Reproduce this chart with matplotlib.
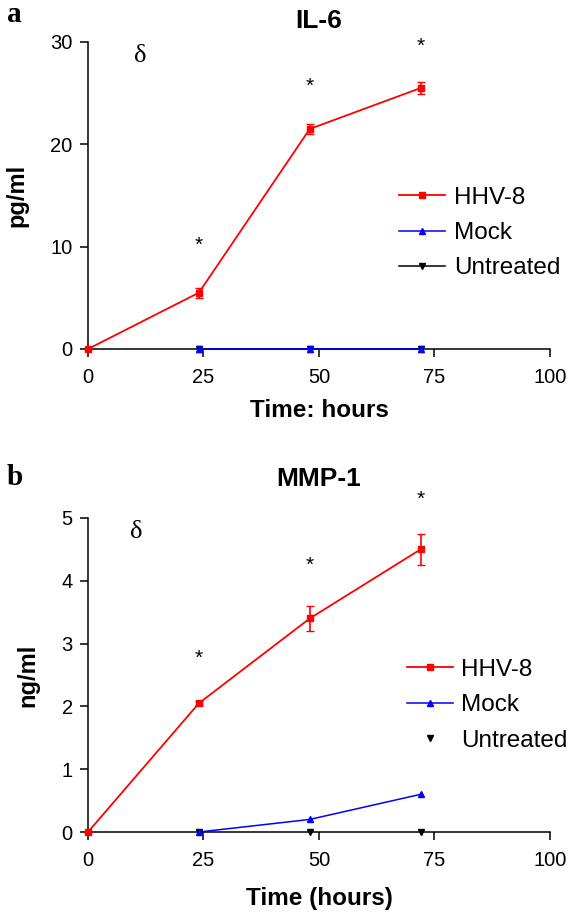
import numpy as np
import matplotlib
matplotlib.use('Agg')
import matplotlib.pyplot as plt

# time points (hours)
hours = [0, 24, 48, 72]
later_hours = [24, 48, 72]

# panel a: IL-6 (pg/ml)
il6_hhv8 = [0, 5.5, 21.5, 25.5]
il6_hhv8_err = [0, 0.5, 0.5, 0.55]
il6_mock = [0, 0, 0]
il6_untreated = [0, 0, 0]
il6_stars = [10.1, 25.7, 29.6]
il6_delta = (11.3, 28.6)

# panel b: MMP-1 (ng/ml)
mmp1_hhv8 = [0, 2.05, 3.4, 4.5]
mmp1_hhv8_err = [0, 0.03, 0.2, 0.25]
mmp1_mock = [0, 0.2, 0.6]
mmp1_untreated = [0, 0, 0]
mmp1_stars = [2.77, 4.25, 5.3]
mmp1_delta = (10.4, 4.78)

xticks = [0, 25, 50, 75, 100]

plt.rcParams['font.family'] = ['Liberation Sans', 'DejaVu Sans']

fig = plt.figure(figsize=(5.81, 9.15), dpi=100)
ax1 = fig.add_axes([0.1515, 0.6186, 0.795, 0.3355])
ax2 = fig.add_axes([0.1515, 0.0907, 0.795, 0.3432])


def style_axis(ax, ymax, yticks, ylabel, xlabel, title, title_pad, xlabelpad):
    ax.spines['top'].set_visible(False)
    ax.spines['right'].set_visible(False)
    ax.spines['left'].set_linewidth(1.1)
    ax.spines['bottom'].set_linewidth(1.1)
    ax.set_xlim(0, 100)
    ax.set_ylim(0, ymax)
    ax.set_xticks(xticks)
    ax.set_yticks(yticks)
    ax.tick_params(direction='out', length=6, width=1.1, labelsize=14.5, pad=5)
    ax.tick_params(axis='x', pad=8)
    ax.set_ylabel(ylabel, fontsize=17, fontweight='bold', labelpad=16)
    ax.set_xlabel(xlabel, fontsize=17.5, fontweight='bold', labelpad=xlabelpad)
    ax.set_title(title, fontsize=19, fontweight='bold', pad=title_pad)


def add_legend(ax, handles, labels, anchor):
    ax.legend(handles, labels, loc='upper left', bbox_to_anchor=anchor,
              bbox_transform=fig.transFigure, frameon=False, fontsize=17.5,
              handlelength=1.9, handletextpad=0.35, labelspacing=0.55,
              borderpad=0, borderaxespad=0)


# ---- panel a
ln_u, = ax1.plot(later_hours, il6_untreated, color='black', marker='v', markersize=4,
                 lw=1.1, clip_on=False, zorder=3)
ax1.errorbar(later_hours, il6_mock, yerr=0.3, color='#0000cc', fmt='none',
             lw=1.1, capsize=2.5, clip_on=False, zorder=4)
ln_m, = ax1.plot(later_hours, il6_mock, color='#0000ff', marker='^', markersize=4,
                 lw=1.1, clip_on=False, zorder=4)
ax1.errorbar(hours, il6_hhv8, yerr=il6_hhv8_err, color='#ff0000', fmt='none',
             lw=1.2, capsize=3, clip_on=False, zorder=5)
ln_h, = ax1.plot(hours, il6_hhv8, color='#ff0000', marker='s', markersize=4.5,
                 lw=1.3, clip_on=False, zorder=5)
for x, y in zip(later_hours, il6_stars):
    ax1.text(x, y, '*', fontsize=15, ha='center', va='center')
ax1.text(il6_delta[0], il6_delta[1], '\u03b4', fontsize=19, ha='center', va='center',
         family=['Liberation Serif', 'DejaVu Serif'])
style_axis(ax1, 30, [0, 10, 20, 30], 'pg/ml', 'Time: hours', 'IL-6', 10, 8)
add_legend(ax1, [ln_h, ln_m, ln_u], ['HHV-8', 'Mock', 'Untreated'], (0.687, 0.796))

# ---- panel b
ln_u2, = ax2.plot(later_hours, mmp1_untreated, color='black', marker='v', markersize=4.5,
                  ls='none', clip_on=False, zorder=3)
ln_m2, = ax2.plot(later_hours, mmp1_mock, color='#0000ff', marker='^', markersize=4.5,
                  lw=1.1, clip_on=False, zorder=4)
ax2.errorbar(hours, mmp1_hhv8, yerr=mmp1_hhv8_err, color='#ff0000', fmt='none',
             lw=1.2, capsize=3, clip_on=False, zorder=5)
ln_h2, = ax2.plot(hours, mmp1_hhv8, color='#ff0000', marker='s', markersize=4.5,
                  lw=1.3, clip_on=False, zorder=5)
for x, y in zip(later_hours, mmp1_stars):
    ax2.text(x, y, '*', fontsize=15, ha='center', va='center', clip_on=False)
ax2.text(mmp1_delta[0], mmp1_delta[1], '\u03b4', fontsize=19, ha='center', va='center',
         family=['Liberation Serif', 'DejaVu Serif'])
style_axis(ax2, 5, [0, 1, 2, 3, 4, 5], 'ng/ml', 'Time (hours)', 'MMP-1', 23, 12)
add_legend(ax2, [ln_h2, ln_m2, ln_u2], ['HHV-8', 'Mock', 'Untreated'], (0.700, 0.280))

# panel letters
fig.text(0.012, 0.984, 'a', fontsize=21, fontweight='bold', va='center',
         family=['Liberation Serif', 'DejaVu Serif'])
fig.text(0.012, 0.478, 'b', fontsize=21, fontweight='bold', va='center',
         family=['Liberation Serif', 'DejaVu Serif'])

plt.savefig('out.png', dpi=100)
